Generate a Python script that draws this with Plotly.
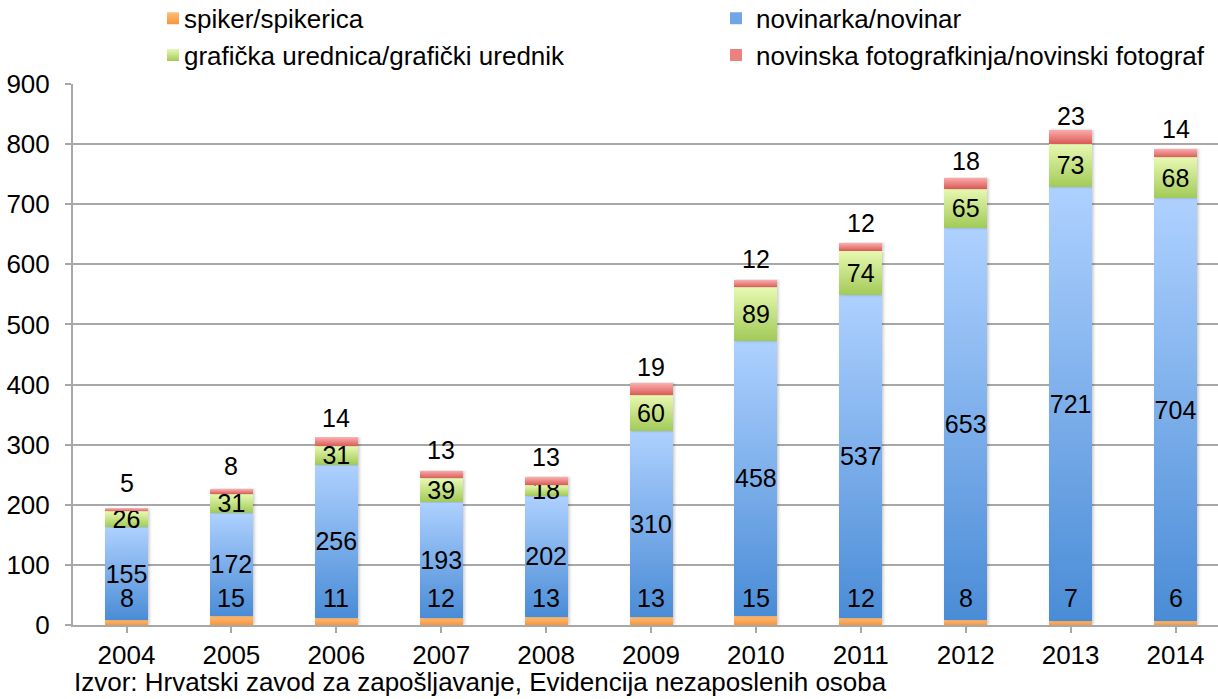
import plotly.graph_objects as go

years = ['2004', '2005', '2006', '2007', '2008', '2009', '2010', '2011', '2012', '2013', '2014']
spiker = [8, 15, 11, 12, 13, 13, 15, 12, 8, 7, 6]
novinar = [155, 172, 256, 193, 202, 310, 458, 537, 653, 721, 704]
graficka = [26, 31, 31, 39, 18, 60, 89, 74, 65, 73, 68]
fotograf = [5, 8, 14, 13, 13, 19, 12, 12, 18, 23, 14]

names = ['spiker/spikerica', 'novinarka/novinar',
         'grafička urednica/grafički urednik', 'novinska fotografkinja/novinski fotograf']
colors = ['#F9A54E', '#6FA6E6', '#C5E27E', '#EC8180']
source = 'Izvor: Hrvatski zavod za zapošljavanje, Evidencija nezaposlenih osoba'

FONT = 'Liberation Sans, Arial, Helvetica, sans-serif'
GRID = '#A8A8A8'

fig = go.Figure()
series = [spiker, novinar, graficka, fotograf]
legends = ['legend', 'legend2', 'legend', 'legend2']
for i, (vals, nm) in enumerate(zip(series, names)):
    kw = {}
    if i in (1, 2):
        kw = dict(text=[str(v) for v in vals], textposition='inside',
                  insidetextanchor='middle', textangle=0, constraintext='none',
                  insidetextfont=dict(size=25, color='black', family=FONT))
    fig.add_trace(go.Bar(x=years, y=vals, name=nm, width=0.41,
                         marker=dict(color=colors[i], line=dict(width=0)),
                         legend=legends[i], hoverinfo='skip', **kw))

# spiker labels and photographer labels as annotations (x by category index)
base_top = [s + n + g for s, n, g in zip(spiker, novinar, graficka)]
for idx, v in enumerate(spiker):
    fig.add_annotation(x=idx, y=0, yshift=27, text=str(v), showarrow=False,
                       yanchor='middle', font=dict(size=25, color='black', family=FONT))
for idx, (b, v) in enumerate(zip(base_top, fotograf)):
    fig.add_annotation(x=idx, y=b, yshift=28, text=str(v), showarrow=False,
                       yanchor='middle', font=dict(size=25, color='black', family=FONT))

fig.add_annotation(xref='paper', yref='paper', x=0, xshift=-1, y=-0.105,
                   xanchor='left', yanchor='middle', text=source, showarrow=False,
                   font=dict(size=26, color='black', family=FONT))

fig.update_layout(
    width=1218, height=699,
    margin=dict(l=73, r=0, t=84, b=74, autoexpand=False),
    barmode='stack',
    plot_bgcolor='white', paper_bgcolor='white',
    font=dict(family=FONT, size=26, color='black'),
    xaxis=dict(type='category', range=[-0.51, 10.405], showline=True, linecolor=GRID,
               linewidth=2, ticks='outside', ticklen=6, tickcolor=GRID, tickwidth=2,
               tickfont=dict(size=26), showgrid=False, fixedrange=True, automargin=False,
               ticklabelstandoff=0),
    yaxis=dict(range=[0, 900], dtick=100, showline=True, linecolor=GRID, linewidth=2,
               ticks='outside', ticklen=6, tickcolor=GRID, tickwidth=2,
               gridcolor=GRID, gridwidth=2, zeroline=False, tickfont=dict(size=26),
               ticklabelstandoff=10, fixedrange=True, automargin=False),
    legend=dict(x=(144 - 73) / 1145, xanchor='left', y=1.165, yanchor='top',
                orientation='v', traceorder='normal', font=dict(size=26),
                bgcolor='rgba(0,0,0,0)', itemclick=False),
    legend2=dict(x=(716 - 73) / 1145, xanchor='left', y=1.165, yanchor='top',
                 orientation='v', traceorder='normal', font=dict(size=26),
                 bgcolor='rgba(0,0,0,0)', itemclick=False),
    showlegend=True,
)

js = """
(function(){
document.documentElement.style.margin = '0';
document.body.style.margin = '0';
document.body.style.padding = '0';
document.body.style.overflow = 'hidden';
var gd = document.getElementById('{plot_id}');
var ns = 'http://www.w3.org/2000/svg';
var grads = [['gr0','#FDBE7E','#F7963A'],['gr1','#AED1FF','#4A8CD6'],
             ['gr2','#E8F9B2','#A2CA58'],['gr3','#FAAEAC','#DB5C59']];
var svg = gd.querySelector('.main-svg');
var defs = document.createElementNS(ns,'defs');
grads.forEach(function(g){
  var lg = document.createElementNS(ns,'linearGradient');
  lg.setAttribute('id', g[0]);
  lg.setAttribute('x1','0'); lg.setAttribute('y1','0');
  lg.setAttribute('x2','0'); lg.setAttribute('y2','1');
  [[0,g[1]],[1,g[2]]].forEach(function(s){
    var st = document.createElementNS(ns,'stop');
    st.setAttribute('offset', s[0]);
    st.setAttribute('stop-color', s[1]);
    lg.appendChild(st);
  });
  defs.appendChild(lg);
});
var flt = document.createElementNS(ns,'filter');
flt.setAttribute('id','barShadow');
flt.setAttribute('x','-20%'); flt.setAttribute('y','-5%');
flt.setAttribute('width','150%'); flt.setAttribute('height','110%');
var ds = document.createElementNS(ns,'feDropShadow');
ds.setAttribute('dx','1.5'); ds.setAttribute('dy','0');
ds.setAttribute('stdDeviation','1.5');
ds.setAttribute('flood-color','#000'); ds.setAttribute('flood-opacity','0.22');
flt.appendChild(ds);
defs.appendChild(flt);
svg.insertBefore(defs, svg.firstChild);
var traces = gd.querySelectorAll('.barlayer .trace.bars');
traces.forEach(function(t, i){
  t.querySelectorAll('.point path').forEach(function(p){
    p.style.fill = 'url(#gr' + i + ')';
    p.setAttribute('filter', 'url(#barShadow)');
  });
});
gd.querySelectorAll('.legend .traces').forEach(function(t){
  var d = t.__data__; var idx = d && d[0] && d[0].trace ? d[0].trace.index : null;
  if(idx === null) return;
  var lp = t.querySelector('.legendpoints');
  if(!lp) return;
  lp.querySelectorAll('path').forEach(function(p){ p.style.fill = 'url(#gr' + idx + ')'; });
  var tr = lp.getAttribute('transform') || '';
  lp.setAttribute('transform', tr + ' translate(9,0)');
});
})();
"""

fig.write_html("out.html", post_script=js, config={'responsive': False, 'displayModeBar': False})
